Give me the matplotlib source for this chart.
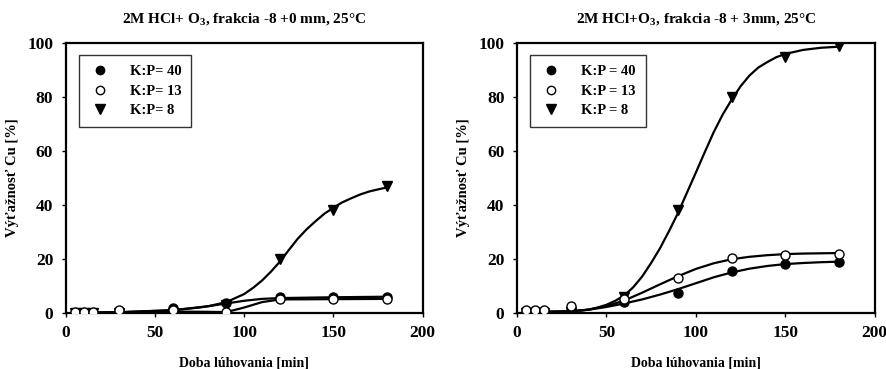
import matplotlib
matplotlib.use("Agg")
import matplotlib.pyplot as plt
from matplotlib.lines import Line2D

plt.rcParams['font.family'] = ['Liberation Serif', 'DejaVu Serif']
plt.rcParams['font.weight'] = 'bold'
plt.rcParams['mathtext.fontset'] = 'custom'
plt.rcParams['mathtext.rm'] = 'Liberation Serif:bold'
plt.rcParams['mathtext.bf'] = 'Liberation Serif:bold'

# ---- data: measured points ----
time_min = [5, 10, 15, 30, 60, 90, 120, 150, 180]

left_kp40 = [0, 0, 0, 0.5, 2, 3.5, 6, 6, 6]
left_kp13 = [0.5, 0.5, 0.5, 1, 1, 0.3, 5, 5, 5]
left_kp8 = [0, 0, 0, 0, 0, 3, 20, 38, 47]

right_kp40 = [0.5, 0.5, 0.5, 1, 4, 7.5, 15.5, 18, 19]
right_kp13 = [1, 1, 1, 2.5, 5, 13, 20.5, 21.5, 22]
right_kp8 = [0, 0, 0, 0.5, 6, 38, 80, 95, 99]

# ---- data: fitted curves ----
left_fit40_x = [5, 30, 60, 75, 90, 100, 110, 120, 150, 180]
left_fit40_y = [0, 0.3, 1.0, 2.0, 3.5, 4.5, 5.2, 5.5, 5.8, 6.0]
left_fit13_x = [5, 30, 60, 80, 90, 100, 110, 120, 150, 180]
left_fit13_y = [0, 0.2, 0.5, 0.4, 0.3, 2.0, 4.0, 5.0, 5.1, 5.2]
left_fit8_x = [5, 30, 60, 80, 90, 100, 105, 110, 115, 120, 125, 130, 135, 140, 145,
               150, 155, 160, 165, 170, 175, 180]
left_fit8_y = [0, 0.2, 1.0, 2.5, 4.0, 7.0, 9.3, 12.0, 15.3, 19.0, 23.3, 27.5, 31.0,
               34.0, 36.8, 39.0, 41.0, 42.5, 43.9, 45.0, 45.8, 46.5]

right_fit40_x = [5, 30, 40, 50, 60, 70, 80, 90, 100, 110, 120, 130, 140, 150, 160, 170, 180]
right_fit40_y = [0.3, 0.6, 1.2, 2.2, 3.5, 5.0, 6.8, 8.8, 11.0, 13.2, 15.0, 16.4, 17.4, 18.1,
                 18.5, 18.8, 19.0]
right_fit13_x = [5, 30, 40, 50, 60, 70, 80, 90, 100, 110, 120, 130, 140, 150, 160, 170, 180]
right_fit13_y = [0.3, 0.6, 1.2, 2.5, 4.6, 7.5, 10.6, 13.6, 16.3, 18.4, 19.9, 20.8, 21.4, 21.8,
                 22.0, 22.1, 22.2]
right_fit8_x = [5, 30, 40, 45, 50, 55, 60, 65, 70, 75, 80, 85, 90, 95, 100, 105, 110, 115,
                120, 125, 130, 135, 140, 145, 150, 160, 170, 180]
right_fit8_y = [0.2, 0.5, 1.2, 2.0, 3.0, 4.5, 6.5, 9.5, 13.5, 18.5, 24.0, 30.3, 37.0, 44.5,
                52.0, 59.6, 67.0, 73.5, 79.0, 84.0, 88.0, 91.0, 93.0, 94.8, 96.0, 97.5, 98.3, 98.7]

titles = [r"2M HCl+ O$_3$, frakcia -8 +0 mm, 25°C",
          r"2M HCl+O$_3$, frakcia -8 + 3mm, 25°C"]
legend_labels = [["K:P= 40", "K:P= 13", "K:P= 8"],
                 ["K:P = 40", "K:P = 13", "K:P = 8"]]
xlabel = "Doba lúhovania [min]"
ylabel = "Výťažnosť Cu [%]"
xticks = [0, 50, 100, 150, 200]
yticks = [0, 20, 40, 60, 80, 100]

fig = plt.figure(figsize=(8.86, 3.69), dpi=100)
ax1 = fig.add_axes([0.0742, 0.152, 0.4028, 0.731])
ax2 = fig.add_axes([0.5835, 0.152, 0.4037, 0.731])

panels = [
    (ax1, left_kp40, left_kp13, left_kp8,
     (left_fit40_x, left_fit40_y), (left_fit13_x, left_fit13_y), (left_fit8_x, left_fit8_y)),
    (ax2, right_kp40, right_kp13, right_kp8,
     (right_fit40_x, right_fit40_y), (right_fit13_x, right_fit13_y), (right_fit8_x, right_fit8_y)),
]

for i, (ax, k40, k13, k8, f40, f13, f8) in enumerate(panels):
    for fx, fy in (f40, f13, f8):
        ax.plot(fx, fy, color='black', lw=1.6, zorder=2)
    ax.plot(time_min, k40, 'o', ms=6.5, mfc='black', mec='black', mew=1, zorder=3)
    ax.plot(time_min, k13, 'o', ms=6.5, mfc='white', mec='black', mew=1, zorder=4)
    ax.plot(time_min, k8, 'v', ms=7, mfc='black', mec='black', mew=1, zorder=3)
    ax.set_xlim(0, 200)
    ax.set_ylim(0, 100)
    ax.set_xticks(xticks)
    ax.set_yticks(yticks)
    ax.tick_params(direction='out', length=3, width=1, labelsize=12.5, pad=6)
    for lab in ax.get_xticklabels() + ax.get_yticklabels():
        lab.set_fontweight('bold')
    for sp in ax.spines.values():
        sp.set_linewidth(1.6)
    ax.set_title(titles[i], fontsize=11, fontweight='bold', pad=14)
    ax.set_xlabel(xlabel, fontsize=10, fontweight='bold', labelpad=11)
    ax.set_ylabel(ylabel, fontsize=10.5, fontweight='bold', labelpad=6)
    handles = [
        Line2D([], [], ls='none', marker='o', ms=6, mfc='black', mec='black'),
        Line2D([], [], ls='none', marker='o', ms=6, mfc='white', mec='black'),
        Line2D([], [], ls='none', marker='v', ms=6.5, mfc='black', mec='black'),
    ]
    leg = ax.legend(handles, legend_labels[i], loc='upper left',
                    bbox_to_anchor=(0.036, 0.956), borderaxespad=0,
                    frameon=True, fancybox=False, edgecolor='black',
                    handletextpad=1.3, borderpad=0.7, labelspacing=0.42,
                    handlelength=1.5,
                    prop={'weight': 'bold', 'size': 10.5})
    leg.get_frame().set_linewidth(1.0)

fig.savefig("out.png", dpi=100, facecolor='white')
